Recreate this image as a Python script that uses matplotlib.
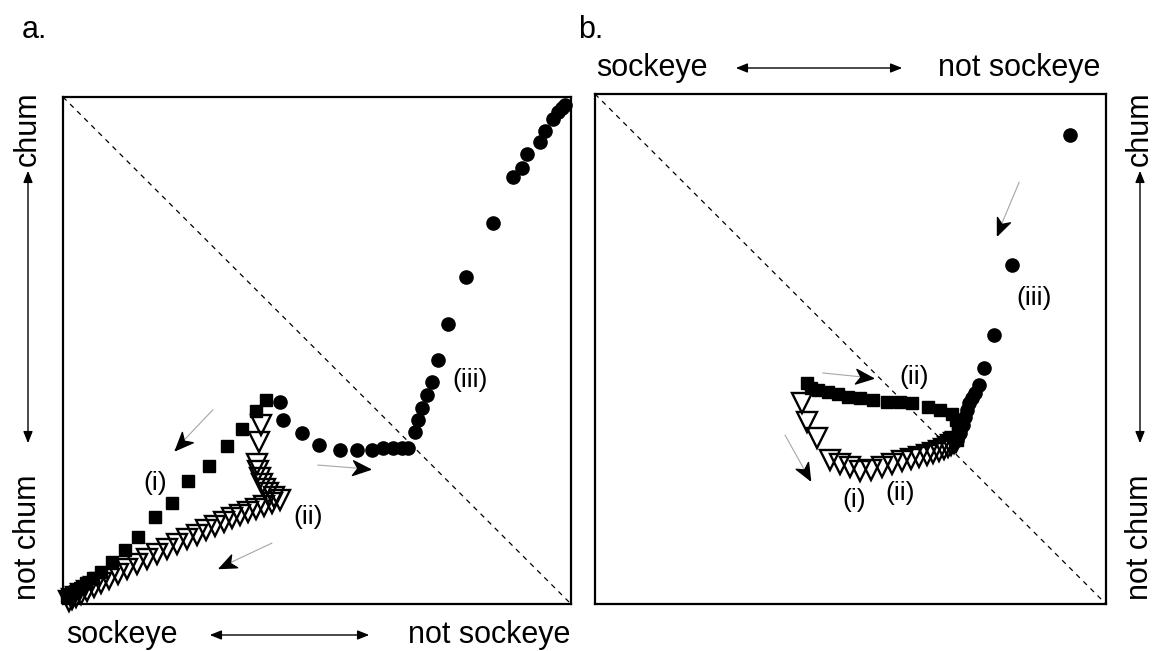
import numpy as np
import matplotlib
matplotlib.use("Agg")
from matplotlib import pyplot as plt
from matplotlib.patches import FancyArrowPatch

plt.rcParams['font.family'] = ['Liberation Sans', 'DejaVu Sans']

W, H = 1156, 651

# ---- panel a (axes fraction: x = not sockeye, y = chum)
a_sq_x = [0.400, 0.380, 0.352, 0.323, 0.287, 0.246, 0.215, 0.181, 0.148, 0.122,
          0.096, 0.075, 0.059, 0.045, 0.033, 0.024, 0.014, 0.008]
a_sq_y = [0.402, 0.381, 0.345, 0.312, 0.272, 0.243, 0.199, 0.172, 0.132, 0.107,
          0.083, 0.063, 0.051, 0.041, 0.032, 0.026, 0.020, 0.014]

a_tri_x = [0.390, 0.386, 0.382, 0.384, 0.388, 0.392, 0.398, 0.404, 0.415, 0.427,
           0.411, 0.396, 0.380, 0.364, 0.348, 0.333, 0.317, 0.299, 0.281, 0.264,
           0.244, 0.224, 0.205, 0.185, 0.165, 0.146, 0.126, 0.108, 0.091, 0.075,
           0.061, 0.047, 0.035, 0.026, 0.018, 0.012]
a_tri_y = [0.353, 0.320, 0.276, 0.262, 0.249, 0.237, 0.227, 0.219, 0.211, 0.205,
           0.199, 0.193, 0.187, 0.181, 0.176, 0.170, 0.162, 0.154, 0.146, 0.136,
           0.128, 0.118, 0.108, 0.099, 0.089, 0.079, 0.069, 0.059, 0.049, 0.041,
           0.034, 0.026, 0.020, 0.014, 0.010, 0.006]

a_cir_x = [0.427, 0.433, 0.470, 0.504, 0.545, 0.579, 0.608, 0.630, 0.650, 0.667,
           0.679, 0.693, 0.699, 0.707, 0.717, 0.726, 0.738, 0.758, 0.793, 0.846,
           0.886, 0.904, 0.913, 0.939, 0.949, 0.965, 0.974, 0.982, 0.988]
a_cir_y = [0.398, 0.363, 0.337, 0.314, 0.304, 0.304, 0.304, 0.308, 0.308, 0.308,
           0.308, 0.339, 0.363, 0.387, 0.412, 0.438, 0.481, 0.552, 0.645, 0.751,
           0.842, 0.860, 0.888, 0.911, 0.933, 0.957, 0.970, 0.978, 0.984]

# ---- panel b
b_sq_x = [0.415, 0.423, 0.436, 0.456, 0.476, 0.495, 0.519, 0.544, 0.571, 0.597,
          0.620, 0.652, 0.675, 0.699, 0.706, 0.710, 0.710, 0.708]
b_sq_y = [0.433, 0.424, 0.420, 0.416, 0.412, 0.406, 0.404, 0.400, 0.396, 0.396,
          0.394, 0.386, 0.380, 0.373, 0.361, 0.347, 0.335, 0.322]

b_tri_x = [0.405, 0.414, 0.434, 0.460, 0.479, 0.499, 0.519, 0.541, 0.561, 0.581,
           0.600, 0.618, 0.635, 0.649, 0.662, 0.673, 0.682, 0.690, 0.697, 0.702, 0.706]
b_tri_y = [0.394, 0.357, 0.325, 0.282, 0.275, 0.268, 0.261, 0.263, 0.269, 0.275,
           0.280, 0.285, 0.289, 0.293, 0.296, 0.300, 0.304, 0.308, 0.312, 0.315, 0.318]

b_cir_x = [0.930, 0.816, 0.781, 0.761, 0.751, 0.744, 0.738, 0.732, 0.728, 0.724,
           0.720, 0.714, 0.708]
b_cir_y = [0.920, 0.665, 0.527, 0.463, 0.429, 0.414, 0.404, 0.394, 0.380, 0.367,
           0.351, 0.335, 0.322]

# direction arrows (start, tip) and phase labels
a_arrows = [((0.295, 0.383), (0.220, 0.304)),
            ((0.411, 0.120), (0.307, 0.071)),
            ((0.502, 0.274), (0.604, 0.266))]
a_labels = [("(i)", 0.181, 0.239), ("(ii)", 0.482, 0.172), ("(iii)", 0.801, 0.442)]

b_arrows = [((0.830, 0.827), (0.787, 0.724)),
            ((0.446, 0.453), (0.544, 0.443)),
            ((0.372, 0.331), (0.421, 0.243))]
b_labels = [("(ii)", 0.624, 0.445), ("(i)", 0.508, 0.204),
            ("(ii)", 0.598, 0.218), ("(iii)", 0.859, 0.600)]


def setup(ax):
    ax.set_xlim(0, 1)
    ax.set_ylim(0, 1)
    ax.set_xticks([])
    ax.set_yticks([])
    for s in ax.spines.values():
        s.set_linewidth(1.6)
    ax.plot([0, 1], [1, 0], color='k', lw=0.9, ls=(0, (4, 4)))


def draw_tracks(ax, sq, tri, cir):
    ax.plot(sq[0], sq[1], 's', ms=8, color='k', ls='none', clip_on=False)
    ax.plot(cir[0], cir[1], 'o', ms=9.5, color='k', ls='none', clip_on=False)
    ax.plot(tri[0], tri[1], 'v', ms=14, mfc='none', mec='k', mew=1.7,
            ls='none', clip_on=False)


def trend_arrow(ax, start, tip):
    ax.plot([start[0], tip[0]], [start[1], tip[1]], color='0.65', lw=0.8)
    bb = ax.get_position()
    ang = np.arctan2((tip[1] - start[1]) * bb.height * H,
                     (tip[0] - start[0]) * bb.width * W)
    verts = np.array([[0, 0], [-1, 0.42], [-0.72, 0], [-1, -0.42], [0, 0]])
    c, s = np.cos(ang), np.sin(ang)
    rot = verts @ np.array([[c, s], [-s, c]])
    ax.plot(tip[0], tip[1], marker=rot, ms=26, color='k', ls='none')


def fig_arrow(fig, p1, p2):
    fig.add_artist(FancyArrowPatch((p1[0] / W, 1 - p1[1] / H), (p2[0] / W, 1 - p2[1] / H),
                                   transform=fig.transFigure,
                                   arrowstyle='<|-|>,head_length=0.35,head_width=0.14',
                                   mutation_scale=20, lw=1, color='k'))


fig = plt.figure(figsize=(W / 100, H / 100), dpi=100)
ax_a = fig.add_axes([63 / W, 47 / H, 508 / W, 507 / H])
ax_b = fig.add_axes([595 / W, 47 / H, 511 / W, 510 / H])

for ax, sq, tri, cir, arrows, labels in [
        (ax_a, (a_sq_x, a_sq_y), (a_tri_x, a_tri_y), (a_cir_x, a_cir_y), a_arrows, a_labels),
        (ax_b, (b_sq_x, b_sq_y), (b_tri_x, b_tri_y), (b_cir_x, b_cir_y), b_arrows, b_labels)]:
    setup(ax)
    draw_tracks(ax, sq, tri, cir)
    for st, tp in arrows:
        trend_arrow(ax, st, tp)
    for txt, x, y in labels:
        ax.text(x, y, txt, fontsize=19, ha='center', va='center')

fs = 22
# panel letters
fig.text(22 / W, 1 - 30 / H, 'a.', fontsize=fs, ha='left', va='center')
fig.text(578 / W, 1 - 30 / H, 'b.', fontsize=fs, ha='left', va='center')

# panel a axis descriptions
fig.text(66 / W, 1 - 635 / H, 'sockeye', fontsize=fs, ha='left', va='center')
fig.text(570 / W, 1 - 635 / H, 'not sockeye', fontsize=fs, ha='right', va='center')
fig_arrow(fig, (207, 635), (372, 635))
fig.text(28 / W, 1 - 129 / H, 'chum', fontsize=fs, rotation=90, ha='center', va='center')
fig.text(28 / W, 1 - 537 / H, 'not chum', fontsize=fs, rotation=90, ha='center', va='center')
fig_arrow(fig, (28, 168), (28, 446))

# panel b axis descriptions
fig.text(596 / W, 1 - 68 / H, 'sockeye', fontsize=fs, ha='left', va='center')
fig.text(1100 / W, 1 - 68 / H, 'not sockeye', fontsize=fs, ha='right', va='center')
fig_arrow(fig, (733, 68), (905, 68))
fig.text(1140 / W, 1 - 129 / H, 'chum', fontsize=fs, rotation=90, ha='center', va='center')
fig.text(1140 / W, 1 - 537 / H, 'not chum', fontsize=fs, rotation=90, ha='center', va='center')
fig_arrow(fig, (1140, 168), (1140, 446))

fig.savefig('out.png', dpi=100)
